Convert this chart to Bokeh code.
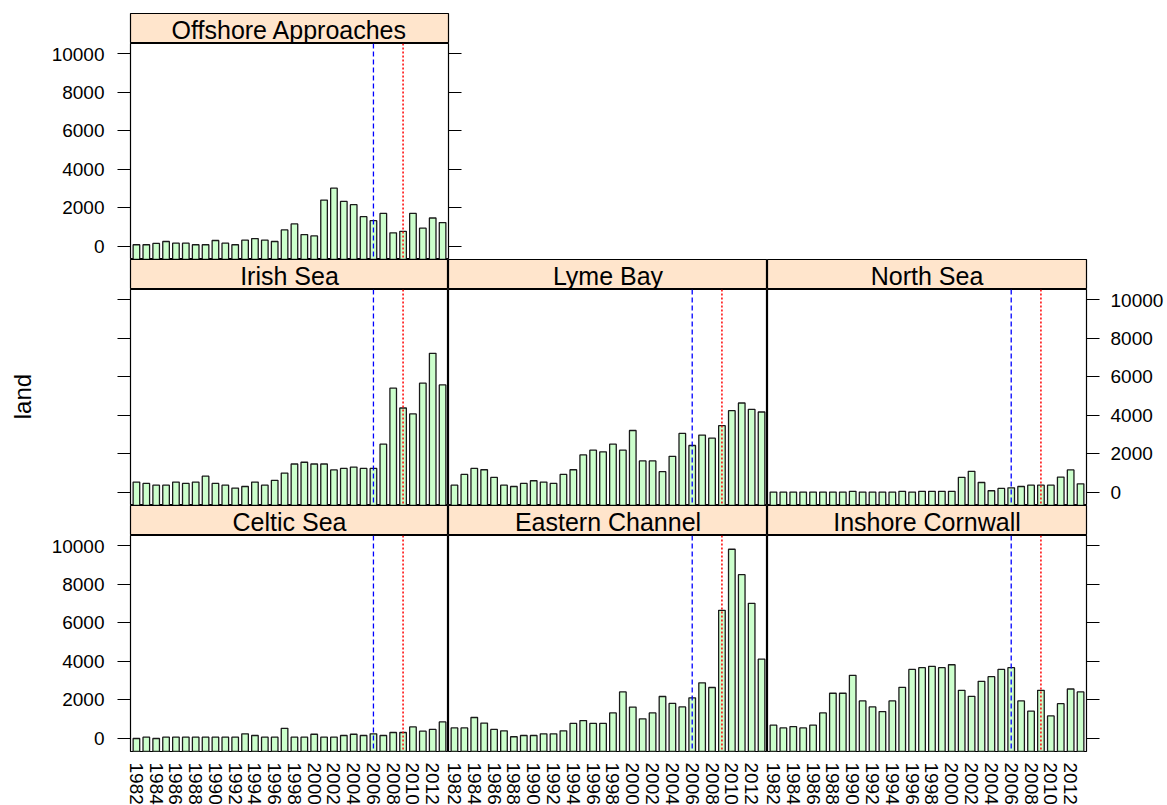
from math import pi
from bokeh.plotting import figure
from bokeh.models import Range1d, LinearAxis, FixedTicker, Span, Label, CustomJSTickFormatter
from bokeh.layouts import row, column
from bokeh.embed import file_html
from bokeh.resources import INLINE

# ---------------- data ----------------
years = list(range(1982, 2014))
year_ticks = list(range(1982, 2013, 2))
y_ticks = [0, 2000, 4000, 6000, 8000, 10000]
blue_year = 2006
red_year = 2009
y_label = "land"

offshore = [90, 90, 160, 260, 170, 170, 90, 90, 310, 170, 90, 330, 410, 330, 260, 860,
            1170, 620, 550, 2410, 3030, 2340, 2170, 1550, 1340, 1720, 710, 790, 1720, 950, 1480, 1240]
irish = [540, 470, 380, 380, 540, 470, 540, 850, 470, 380, 230, 310, 540, 380, 630, 1010,
         1480, 1570, 1480, 1480, 1170, 1250, 1320, 1250, 1250, 2510, 5420, 4390, 4080, 5680, 7230, 5590]
lyme = [380, 940, 1250, 1180, 780, 380, 310, 470, 610, 540, 470, 940, 1180, 1950, 2200, 2110,
        2510, 2200, 3220, 1640, 1640, 1080, 1880, 3070, 2440, 2980, 2820, 3470, 4250, 4650, 4320, 4180]
north = [20, 20, 20, 20, 20, 20, 20, 20, 60, 20, 20, 20, 20, 60, 20, 60,
         60, 60, 60, 790, 1100, 520, 90, 210, 240, 310, 380, 380, 380, 800, 1170, 450]
celtic = [0, 70, 0, 70, 70, 70, 70, 70, 70, 70, 70, 240, 155, 70, 70, 530,
          70, 70, 220, 70, 70, 155, 220, 155, 240, 155, 310, 310, 600, 380, 470, 860]
eastern = [550, 550, 1090, 800, 470, 400, 90, 155, 155, 240, 240, 400, 780, 930, 780, 780,
           1330, 2420, 1630, 1020, 1330, 2180, 1820, 1640, 2110, 2890, 2650, 6660, 9830, 8510, 7020, 4120]
cornwall = [690, 550, 620, 550, 690, 1330, 2350, 2350, 3280, 1950, 1640, 1400, 1950, 2660, 3590, 3680,
            3750, 3680, 3830, 2500, 2190, 2970, 3210, 3590, 3680, 1950, 1420, 2500, 1170, 1810, 2570, 2420]

# ---------------- style ----------------
FONT = "Liberation Sans"
BAR_FILL = "#CCFFCC"
STRIP_FILL = "#FFE5CC"
Y0, Y1 = -676, 10545
X0, X1 = 1981.4, 2013.6
PANEL_H = 216
STRIP_H = 30
LBL_W = 44
C1_LB = 86
FW = [318, 319, 319]
RB = 80
OFF_RB = 14
TOP_B = 13
BOT_B = 54
OVL = 8   # transparent overlap so that rotated year labels at panel edges are not clipped
TOTAL_H = TOP_B + 3 * (STRIP_H + PANEL_H) + BOT_B
TICK_FS = "19px"


def base_fig(fw, fh, xr, yr, bl=0, br=0, bt=0, bb=0, bg="white", outline="black", bfill="white"):
    f = figure(frame_width=fw, frame_height=fh, x_range=xr, y_range=yr,
               output_backend="svg", toolbar_location=None, title=None,
               x_axis_location=None, y_axis_location=None,
               min_border_left=bl, min_border_right=br, min_border_top=bt, min_border_bottom=bb,
               background_fill_color=bg, border_fill_color=bfill)
    f.xgrid.visible = False
    f.ygrid.visible = False
    f.outline_line_color = outline
    f.outline_line_width = 1.2
    return f


def add_yaxis(f, side, labels):
    ax = LinearAxis(ticker=FixedTicker(ticks=y_ticks, minor_ticks=[]),
                    major_tick_out=13, major_tick_in=0, minor_tick_out=0, minor_tick_in=0,
                    axis_line_color=None, major_tick_line_color="black", major_tick_line_width=1.2,
                    major_label_text_font=FONT, major_label_text_font_size=TICK_FS,
                    major_label_text_color="black")
    if labels:
        ax.major_label_standoff = 13 if side == "left" else 11
    else:
        ax.formatter = CustomJSTickFormatter(code="return ''")
        ax.major_label_standoff = 0
    f.add_layout(ax, side)


def add_xaxis(f):
    ax = LinearAxis(ticker=FixedTicker(ticks=year_ticks, minor_ticks=[]),
                    major_tick_out=0, major_tick_in=0, minor_tick_out=0, minor_tick_in=0,
                    axis_line_color=None, major_label_orientation="vertical",
                    major_label_standoff=11, major_label_text_font=FONT,
                    major_label_text_font_size=TICK_FS, major_label_text_color="black")
    f.add_layout(ax, "below")


def strip(name, fw, bl=0, br=0, bt=0, bfill="white"):
    s = base_fig(fw, STRIP_H, Range1d(0, 1), Range1d(0, 1), bl=bl, br=br, bt=bt,
                 bg=STRIP_FILL, bfill=bfill)
    s.add_layout(Label(x=0.5, y=0.45, text=name, text_align="center", text_baseline="middle",
                       text_font=FONT, text_font_size="25px", text_color="black"))
    return s


def panel(vals, fw, bl=0, br=0, bb=0, bfill="white"):
    p = base_fig(fw, PANEL_H, Range1d(X0, X1), Range1d(Y0, Y1), bl=bl, br=br, bb=bb, bfill=bfill)
    p.vbar(x=years, top=vals, bottom=Y0, width=0.667, fill_color=BAR_FILL,
           line_color="#1a1a1a", line_width=1.3)
    p.add_layout(Span(location=blue_year, dimension="height", line_color="blue",
                      line_dash="5 3", line_width=1.3))
    p.add_layout(Span(location=red_year, dimension="height", line_color="red",
                      line_dash="2 2", line_width=1.5))
    return p


# ---- row 1 ----
s_off = strip("Offshore Approaches", FW[0], bl=C1_LB, br=OFF_RB, bt=TOP_B)
p_off = panel(offshore, FW[0], bl=C1_LB, br=OFF_RB)
add_yaxis(p_off, "left", True)
add_yaxis(p_off, "right", False)
row1 = row(column(s_off, p_off))

# ---- row 2 ----
s_iri = strip("Irish Sea", FW[0], bl=C1_LB)
p_iri = panel(irish, FW[0], bl=C1_LB)
add_yaxis(p_iri, "left", False)
s_lym = strip("Lyme Bay", FW[1])
p_lym = panel(lyme, FW[1])
s_nor = strip("North Sea", FW[2], br=RB)
p_nor = panel(north, FW[2], br=RB)
add_yaxis(p_nor, "right", True)
row2 = row(column(s_iri, p_iri), column(s_lym, p_lym), column(s_nor, p_nor))

# ---- row 3 ----
s_cel = strip("Celtic Sea", FW[0], bl=C1_LB)
p_cel = panel(celtic, FW[0], bl=C1_LB, bb=BOT_B)
add_yaxis(p_cel, "left", True)
add_xaxis(p_cel)
s_eas = strip("Eastern Channel", FW[1], bl=OVL, bfill=None)
p_eas = panel(eastern, FW[1], bl=OVL, bb=BOT_B, bfill=None)
add_xaxis(p_eas)
s_cor = strip("Inshore Cornwall", FW[2], bl=OVL, br=RB, bfill=None)
p_cor = panel(cornwall, FW[2], bl=OVL, br=RB, bb=BOT_B, bfill=None)
add_yaxis(p_cor, "right", False)
add_xaxis(p_cor)
row3 = row(column(s_cel, p_cel),
           column(s_eas, p_eas, margin=(0, 0, 0, -OVL)),
           column(s_cor, p_cor, margin=(0, 0, 0, -OVL)))

# ---- y label column ----
lab = base_fig(LBL_W, TOTAL_H, Range1d(0, 1), Range1d(0, 1), outline=None)
lab.add_layout(Label(x=0.49, y=0.508, text=y_label, angle=pi / 2, text_align="center",
                     text_baseline="middle", text_font=FONT, text_font_size="24px",
                     text_color="black"))

layout = row(lab, column(row1, row2, row3))

open("out.html", "w").write(file_html(layout, INLINE))
